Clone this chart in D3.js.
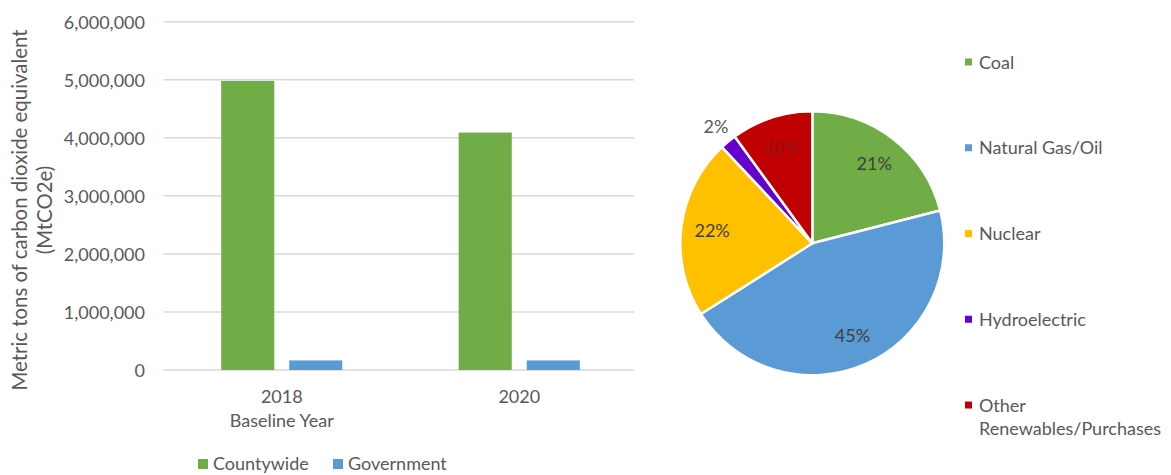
<!DOCTYPE html>
<html><head><meta charset="utf-8">
<script src="https://cdn.jsdelivr.net/npm/d3@7"></script>
<style>body{margin:0;background:#fff}svg{display:block}text{font-family:Lato,"Open Sans",sans-serif}</style>
</head><body>
<script>
// ---- data ----
const years = ["2018", "2020"];
const yearSubLabels = ["Baseline Year", ""];
const seriesNames = ["Countywide", "Government"];
const countywide = [4980000, 4090000];
const government = [165000, 165000];
const yTicks = [0, 1000000, 2000000, 3000000, 4000000, 5000000, 6000000];
const sources = ["Coal", "Natural Gas/Oil", "Nuclear", "Hydroelectric", "Other Renewables/Purchases"];
const sourceShares = [21, 45, 22, 2, 10];

// ---- styles ----
const seriesColors = ["#70AD47", "#5B9BD5"];
const pieColors = ["#70AD47", "#5B9BD5", "#FFC000", "#6600CC", "#C00000"];
const gray = "#595959";

const W = 1171, H = 475;
const svg = d3.select("body").append("svg").attr("width", W).attr("height", H);
svg.append("rect").attr("width", W).attr("height", H).attr("fill", "#fff");

// ---- bar chart ----
const y = d3.scaleLinear().domain([0, 6000000]).range([370, 21.7]);
const x0 = d3.scaleBand().domain(years).range([163, 638]).paddingInner(0.49).paddingOuter(0.245);
const x1 = d3.scaleBand().domain(seriesNames).range([0, x0.bandwidth()]).paddingInner(0.22);
const fmt = d3.format(",");

const gGrid = svg.append("g");
gGrid.selectAll("line").data(yTicks).join("line")
  .attr("x1", 163.5).attr("x2", 634)
  .attr("y1", d => y(d)).attr("y2", d => y(d))
  .attr("stroke", "#d9d9d9").attr("stroke-width", 1.5);

const yAxis = d3.axisLeft(y).tickValues(yTicks).tickFormat(fmt).tickSize(0).tickPadding(0);
const gy = svg.append("g").attr("transform", "translate(145,0)").call(yAxis);
gy.select(".domain").remove();
gy.selectAll("text").attr("fill", gray).style("font-size", "18px").attr("dy", "0.36em");

const rows = years.map((yr, i) => ({ year: yr, vals: [countywide[i], government[i]] }));
const groups = svg.append("g").selectAll("g").data(rows).join("g")
  .attr("transform", d => `translate(${x0(d.year)},0)`);
groups.selectAll("rect").data(d => d.vals.map((v, j) => ({ name: seriesNames[j], v, j })))
  .join("rect")
  .attr("x", d => x1(d.name)).attr("width", x1.bandwidth())
  .attr("y", d => y(d.v)).attr("height", d => y(0) - y(d.v))
  .attr("fill", d => seriesColors[d.j]);

const xAxis = d3.axisBottom(x0).tickSize(0).tickPadding(0);
const gx = svg.append("g").attr("transform", "translate(0,403)").call(xAxis);
gx.select(".domain").remove();
gx.selectAll("text").attr("fill", gray).style("font-size", "18px").attr("dy", 0);
gx.selectAll(".tick").append("text")
  .text((d, i) => yearSubLabels[i])
  .attr("fill", gray).attr("text-anchor", "middle").attr("y", 24).style("font-size", "18px");

// y title
const yt = svg.append("text").attr("transform", "translate(27,210) rotate(-90)")
  .attr("text-anchor", "middle").attr("fill", gray).style("font-size", "20.4px");
yt.append("tspan").attr("x", 0).attr("y", 0).text("Metric tons of carbon dioxide equivalent");
yt.append("tspan").attr("x", 0).attr("y", 25).text("(MtCO2e)");

// bar legend
const legX = [198, 333];
const bl = svg.append("g").selectAll("g").data(seriesNames).join("g")
  .attr("transform", (d, i) => `translate(${legX[i]},459)`);
bl.append("rect").attr("width", 10).attr("height", 10).attr("fill", (d, i) => seriesColors[i]);
bl.append("text").attr("x", 15).attr("y", 11).text(d => d).attr("fill", gray).style("font-size", "18px");

// ---- pie ----
const cx = 812.3, cy = 243.3, R = 132;
const pie = d3.pie().sort(null).value(d => d.v);
const pdata = pie(sources.map((s, i) => ({ s, v: sourceShares[i], i })));
const arc = d3.arc().innerRadius(0).outerRadius(R);
const labelArc = d3.arc().innerRadius(101).outerRadius(101);
const outArc = d3.arc().innerRadius(151).outerRadius(151);
const gp = svg.append("g").attr("transform", `translate(${cx},${cy})`);
gp.selectAll("path").data(pdata).join("path")
  .attr("d", arc).attr("fill", d => pieColors[d.data.i])
  .attr("stroke", "#fff").attr("stroke-width", 2.5).attr("stroke-linejoin", "round");
const labelColors = ["#404040", "#404040", "#404040", gray, "#8f1515"];
gp.selectAll("text").data(pdata).join("text")
  .attr("transform", d => `translate(${(d.data.v < 5 ? outArc : labelArc).centroid(d)})`)
  .attr("text-anchor", "middle").attr("dy", "0.36em")
  .attr("fill", d => labelColors[d.data.i]).style("font-size", "18px")
  .text(d => d.data.v + "%");

// pie legend
const pl = svg.append("g").selectAll("g").data(sources).join("g")
  .attr("transform", (d, i) => `translate(965,${62 + i * 85.75})`);
pl.append("rect").attr("x", 0).attr("y", -3.5).attr("width", 7).attr("height", 7).attr("fill", (d, i) => pieColors[i]);
pl.each(function (d) {
  const t = d3.select(this).append("text").attr("x", 14).attr("y", 6.5).attr("fill", gray).style("font-size", "18px");
  const parts = d === "Other Renewables/Purchases" ? ["Other", "Renewables/Purchases"] : [d];
  parts.forEach((p, k) => t.append("tspan").attr("x", 14).attr("dy", k ? 23 : 0).text(p));
});
</script>
</body></html>
